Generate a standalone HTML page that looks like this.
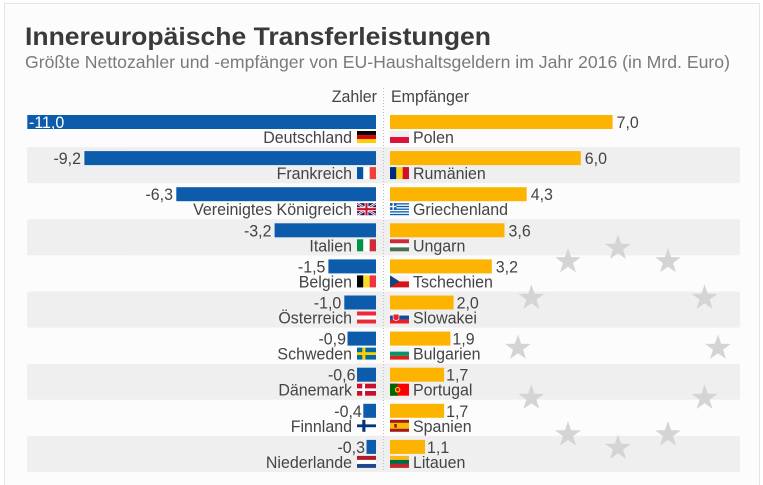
<!DOCTYPE html>
<html><head><meta charset="utf-8"><style>
html,body{margin:0;padding:0;background:#fff;}
svg{display:block;}
text{font-family:"Liberation Sans",sans-serif;}
</style></head><body>
<svg width="763" height="485" viewBox="0 0 763 485" xmlns="http://www.w3.org/2000/svg">
<defs>
<polygon id="st" points="0,-13.5 3.12,-4.29 12.84,-4.17 5.04,1.64 7.94,10.92 0,5.3 -7.94,10.92 -5.04,1.64 -12.84,-4.17 -3.12,-4.29" fill="#d4d4d4"/>
</defs>
<rect x="0" y="0" width="763" height="485" fill="#fff"/>
<rect x="4.5" y="3.5" width="755" height="490" fill="#fcfcfc" stroke="#e4e4e4" stroke-width="1"/>

<text x="25" y="45" font-size="25" font-weight="bold" fill="#3a3a3a" textLength="466" lengthAdjust="spacingAndGlyphs">Innereuropäische Transferleistungen</text>
<text x="25" y="68" font-size="17.5" fill="#7a7a7a" textLength="705" lengthAdjust="spacingAndGlyphs">Größte Nettozahler und -empfänger von EU-Haushaltsgeldern im Jahr 2016 (in Mrd. Euro)</text>

<!-- bands -->
<rect x="27" y="147.1" width="713" height="36.1" fill="#efefef" rx="2"/>
<rect x="27" y="219.3" width="713" height="36.1" fill="#efefef" rx="2"/>
<rect x="27" y="291.5" width="713" height="36.1" fill="#efefef" rx="2"/>
<rect x="27" y="363.7" width="713" height="36.1" fill="#efefef" rx="2"/>
<rect x="27" y="435.9" width="713" height="36.1" fill="#efefef" rx="2"/>

<!-- stars -->
<use href="#st" x="618" y="248"/>
<use href="#st" x="668" y="261.4"/>
<use href="#st" x="704.6" y="298"/>
<use href="#st" x="718" y="348"/>
<use href="#st" x="704.6" y="398"/>
<use href="#st" x="668" y="434.6"/>
<use href="#st" x="618" y="448"/>
<use href="#st" x="568" y="434.6"/>
<use href="#st" x="531.4" y="398"/>
<use href="#st" x="518" y="348"/>
<use href="#st" x="531.4" y="298"/>
<use href="#st" x="568" y="261.4"/>

<!-- divider -->
<line x1="383.5" y1="88" x2="383.5" y2="472" stroke="#bdbdbd" stroke-width="1" stroke-dasharray="1,2"/>

<g font-size="17" fill="#444">
<text transform="matrix(0.94,0,0,1,377,102)" text-anchor="end">Zahler</text>
<text transform="matrix(0.94,0,0,1,391,102)">Empfänger</text>
<!-- Row 0 -->
<rect x="27.3" y="115" width="348.7" height="14" fill="#0d5bab"/>
<text transform="matrix(0.94,0,0,1,29,128)" fill="#fff">-11,0</text>
<rect x="390" y="115" width="222.6" height="14" fill="#fdb400"/>
<text transform="matrix(0.94,0,0,1,616.6,128)">7,0</text>
<text transform="matrix(0.94,0,0,1,352,143)" text-anchor="end">Deutschland</text>
<text transform="matrix(0.94,0,0,1,413,143)">Polen</text>
<!-- Row 1 -->
<rect x="84.4" y="151.1" width="291.6" height="14" fill="#0d5bab"/>
<text transform="matrix(0.94,0,0,1,81,164.1)" text-anchor="end">-9,2</text>
<rect x="390" y="151.1" width="190.8" height="14" fill="#fdb400"/>
<text transform="matrix(0.94,0,0,1,584.8,164.1)">6,0</text>
<text transform="matrix(0.94,0,0,1,352,179.1)" text-anchor="end">Frankreich</text>
<text transform="matrix(0.94,0,0,1,413,179.1)">Rumänien</text>
<!-- Row 2 -->
<rect x="176.3" y="187.2" width="199.7" height="14" fill="#0d5bab"/>
<text transform="matrix(0.94,0,0,1,173,200.2)" text-anchor="end">-6,3</text>
<rect x="390" y="187.2" width="136.7" height="14" fill="#fdb400"/>
<text transform="matrix(0.94,0,0,1,530.7,200.2)">4,3</text>
<text transform="matrix(0.94,0,0,1,352,215.2)" text-anchor="end">Vereinigtes Königreich</text>
<text transform="matrix(0.94,0,0,1,413,215.2)">Griechenland</text>
<!-- Row 3 -->
<rect x="274.6" y="223.3" width="101.4" height="14" fill="#0d5bab"/>
<text transform="matrix(0.94,0,0,1,271.5,236.3)" text-anchor="end">-3,2</text>
<rect x="390" y="223.3" width="114.5" height="14" fill="#fdb400"/>
<text transform="matrix(0.94,0,0,1,508.5,236.3)">3,6</text>
<text transform="matrix(0.94,0,0,1,352,251.3)" text-anchor="end">Italien</text>
<text transform="matrix(0.94,0,0,1,413,251.3)">Ungarn</text>
<!-- Row 4 -->
<rect x="328.4" y="259.4" width="47.6" height="14" fill="#0d5bab"/>
<text transform="matrix(0.94,0,0,1,325.4,272.4)" text-anchor="end">-1,5</text>
<rect x="390" y="259.4" width="101.8" height="14" fill="#fdb400"/>
<text transform="matrix(0.94,0,0,1,495.8,272.4)">3,2</text>
<text transform="matrix(0.94,0,0,1,352,287.4)" text-anchor="end">Belgien</text>
<text transform="matrix(0.94,0,0,1,413,287.4)">Tschechien</text>
<!-- Row 5 -->
<rect x="344.3" y="295.5" width="31.7" height="14" fill="#0d5bab"/>
<text transform="matrix(0.94,0,0,1,341.3,308.5)" text-anchor="end">-1,0</text>
<rect x="390" y="295.5" width="63.6" height="14" fill="#fdb400"/>
<text transform="matrix(0.94,0,0,1,456.6,308.5)">2,0</text>
<text transform="matrix(0.94,0,0,1,352,323.5)" text-anchor="end">Österreich</text>
<text transform="matrix(0.94,0,0,1,413,323.5)">Slowakei</text>
<!-- Row 6 -->
<rect x="347.5" y="331.6" width="28.5" height="14" fill="#0d5bab"/>
<text transform="matrix(0.94,0,0,1,346,344.6)" text-anchor="end">-0,9</text>
<rect x="390" y="331.6" width="60.4" height="14" fill="#fdb400"/>
<text transform="matrix(0.94,0,0,1,452.4,344.6)">1,9</text>
<text transform="matrix(0.94,0,0,1,352,359.6)" text-anchor="end">Schweden</text>
<text transform="matrix(0.94,0,0,1,413,359.6)">Bulgarien</text>
<!-- Row 7 -->
<rect x="357" y="367.7" width="19" height="14" fill="#0d5bab"/>
<text transform="matrix(0.94,0,0,1,355.5,380.7)" text-anchor="end">-0,6</text>
<rect x="390" y="367.7" width="54.1" height="14" fill="#fdb400"/>
<text transform="matrix(0.94,0,0,1,446.1,380.7)">1,7</text>
<text transform="matrix(0.94,0,0,1,352,395.7)" text-anchor="end">Dänemark</text>
<text transform="matrix(0.94,0,0,1,413,395.7)">Portugal</text>
<!-- Row 8 -->
<rect x="363.3" y="403.8" width="12.7" height="14" fill="#0d5bab"/>
<text transform="matrix(0.94,0,0,1,361.8,416.8)" text-anchor="end">-0,4</text>
<rect x="390" y="403.8" width="54.1" height="14" fill="#fdb400"/>
<text transform="matrix(0.94,0,0,1,446.1,416.8)">1,7</text>
<text transform="matrix(0.94,0,0,1,352,431.8)" text-anchor="end">Finnland</text>
<text transform="matrix(0.94,0,0,1,413,431.8)">Spanien</text>
<!-- Row 9 -->
<rect x="366.5" y="439.9" width="9.5" height="14" fill="#0d5bab"/>
<text transform="matrix(0.94,0,0,1,365,452.9)" text-anchor="end">-0,3</text>
<rect x="390" y="439.9" width="35" height="14" fill="#fdb400"/>
<text transform="matrix(0.94,0,0,1,427,452.9)">1,1</text>
<text transform="matrix(0.94,0,0,1,352,467.9)" text-anchor="end">Niederlande</text>
<text transform="matrix(0.94,0,0,1,413,467.9)">Litauen</text>
</g>

<!-- Flags: 19x12 via scale -->
<g transform="translate(357,131) scale(1.055,1.09)"><rect width="18" height="3.7" fill="#000"/><rect y="3.7" width="18" height="3.7" fill="#dd0000"/><rect y="7.4" width="18" height="3.6" fill="#ffce00"/></g>
<g transform="translate(390,131) scale(1.055,1.09)"><rect width="18" height="5.5" fill="#f0f0f0"/><rect y="5.5" width="18" height="5.5" fill="#dc143c"/></g>
<g transform="translate(357,167.1) scale(1.055,1.09)"><rect width="6" height="11" fill="#0055a4"/><rect x="6" width="6" height="11" fill="#fff"/><rect x="12" width="6" height="11" fill="#ef4135"/></g>
<g transform="translate(390,167.1) scale(1.055,1.09)"><rect width="6" height="11" fill="#002b7f"/><rect x="6" width="6" height="11" fill="#fcd116"/><rect x="12" width="6" height="11" fill="#ce1126"/></g>
<g transform="translate(357,203.2) scale(1.055,1.09)"><rect width="18" height="11" fill="#012169"/><path d="M0,0L18,11M18,0L0,11" stroke="#fff" stroke-width="2.2"/><path d="M0,0L18,11M18,0L0,11" stroke="#c8102e" stroke-width="0.8"/><path d="M9,0V11M0,5.5H18" stroke="#fff" stroke-width="3.6"/><path d="M9,0V11M0,5.5H18" stroke="#c8102e" stroke-width="2"/></g>
<g transform="translate(390,203.2) scale(1.055,1.09)"><rect width="18" height="11" fill="#0d5eaf"/><rect y="1.22" width="18" height="1.22" fill="#fff"/><rect y="3.67" width="18" height="1.22" fill="#fff"/><rect y="6.11" width="18" height="1.22" fill="#fff"/><rect y="8.56" width="18" height="1.22" fill="#fff"/><rect width="6.1" height="6.1" fill="#0d5eaf"/><rect x="2.4" width="1.3" height="6.1" fill="#fff"/><rect y="2.4" width="6.1" height="1.3" fill="#fff"/></g>
<g transform="translate(357,239.3) scale(1.055,1.09)"><rect width="6" height="11" fill="#009246"/><rect x="6" width="6" height="11" fill="#fff"/><rect x="12" width="6" height="11" fill="#ce2b37"/></g>
<g transform="translate(390,239.3) scale(1.055,1.09)"><rect width="18" height="3.7" fill="#ce2939"/><rect y="3.7" width="18" height="3.7" fill="#fff"/><rect y="7.4" width="18" height="3.6" fill="#477050"/></g>
<g transform="translate(357,275.4) scale(1.055,1.09)"><rect width="6" height="11" fill="#000"/><rect x="6" width="6" height="11" fill="#fdda24"/><rect x="12" width="6" height="11" fill="#ef3340"/></g>
<g transform="translate(390,275.4) scale(1.055,1.09)"><rect width="18" height="5.5" fill="#f4f4f4"/><rect y="5.5" width="18" height="5.5" fill="#d7141a"/><polygon points="0,0 9,5.5 0,11" fill="#11457e"/></g>
<g transform="translate(357,311.5) scale(1.055,1.09)"><rect width="18" height="3.7" fill="#ed2939"/><rect y="3.7" width="18" height="3.7" fill="#fff"/><rect y="7.4" width="18" height="3.6" fill="#ed2939"/></g>
<g transform="translate(390,311.5) scale(1.055,1.09)"><rect width="18" height="3.7" fill="#f4f4f4"/><rect y="3.7" width="18" height="3.7" fill="#0b4ea2"/><rect y="7.4" width="18" height="3.6" fill="#ee1c25"/><path d="M3,2.5H8.5V7Q5.75,9.5 3,7Z" fill="#ee1c25" stroke="#fff" stroke-width="0.6"/></g>
<g transform="translate(357,347.6) scale(1.055,1.09)"><rect width="18" height="11" fill="#006aa7"/><rect x="5" width="3" height="11" fill="#fecc00"/><rect y="4.2" width="18" height="2.6" fill="#fecc00"/></g>
<g transform="translate(390,347.6) scale(1.055,1.09)"><rect width="18" height="3.7" fill="#f4f4f4"/><rect y="3.7" width="18" height="3.7" fill="#00966e"/><rect y="7.4" width="18" height="3.6" fill="#d62612"/></g>
<g transform="translate(357,383.7) scale(1.055,1.09)"><rect width="18" height="11" fill="#c8102e"/><rect x="5" width="2.6" height="11" fill="#fff"/><rect y="4.3" width="18" height="2.4" fill="#fff"/></g>
<g transform="translate(390,383.7) scale(1.055,1.09)"><rect width="18" height="11" fill="#ff0000"/><rect width="7.2" height="11" fill="#006600"/><circle cx="7.2" cy="5.5" r="2.6" fill="#ffcc00"/><circle cx="7.2" cy="5.5" r="1.5" fill="#ff0000"/></g>
<g transform="translate(357,419.8) scale(1.055,1.09)"><rect width="18" height="11" fill="#fff"/><rect x="5" width="3" height="11" fill="#003580"/><rect y="4.2" width="18" height="2.6" fill="#003580"/></g>
<g transform="translate(390,419.8) scale(1.055,1.09)"><rect width="18" height="11" fill="#aa151b"/><rect y="2.75" width="18" height="5.5" fill="#f1bf00"/><rect x="4" y="3.8" width="2.5" height="3.4" fill="#aa151b"/></g>
<g transform="translate(357,455.9) scale(1.055,1.09)"><rect width="18" height="3.7" fill="#ae1c28"/><rect y="3.7" width="18" height="3.7" fill="#fff"/><rect y="7.4" width="18" height="3.6" fill="#21468b"/></g>
<g transform="translate(390,455.9) scale(1.055,1.09)"><rect width="18" height="3.7" fill="#fdb913"/><rect y="3.7" width="18" height="3.7" fill="#006a44"/><rect y="7.4" width="18" height="3.6" fill="#c1272d"/></g>
</svg>
</body></html>
